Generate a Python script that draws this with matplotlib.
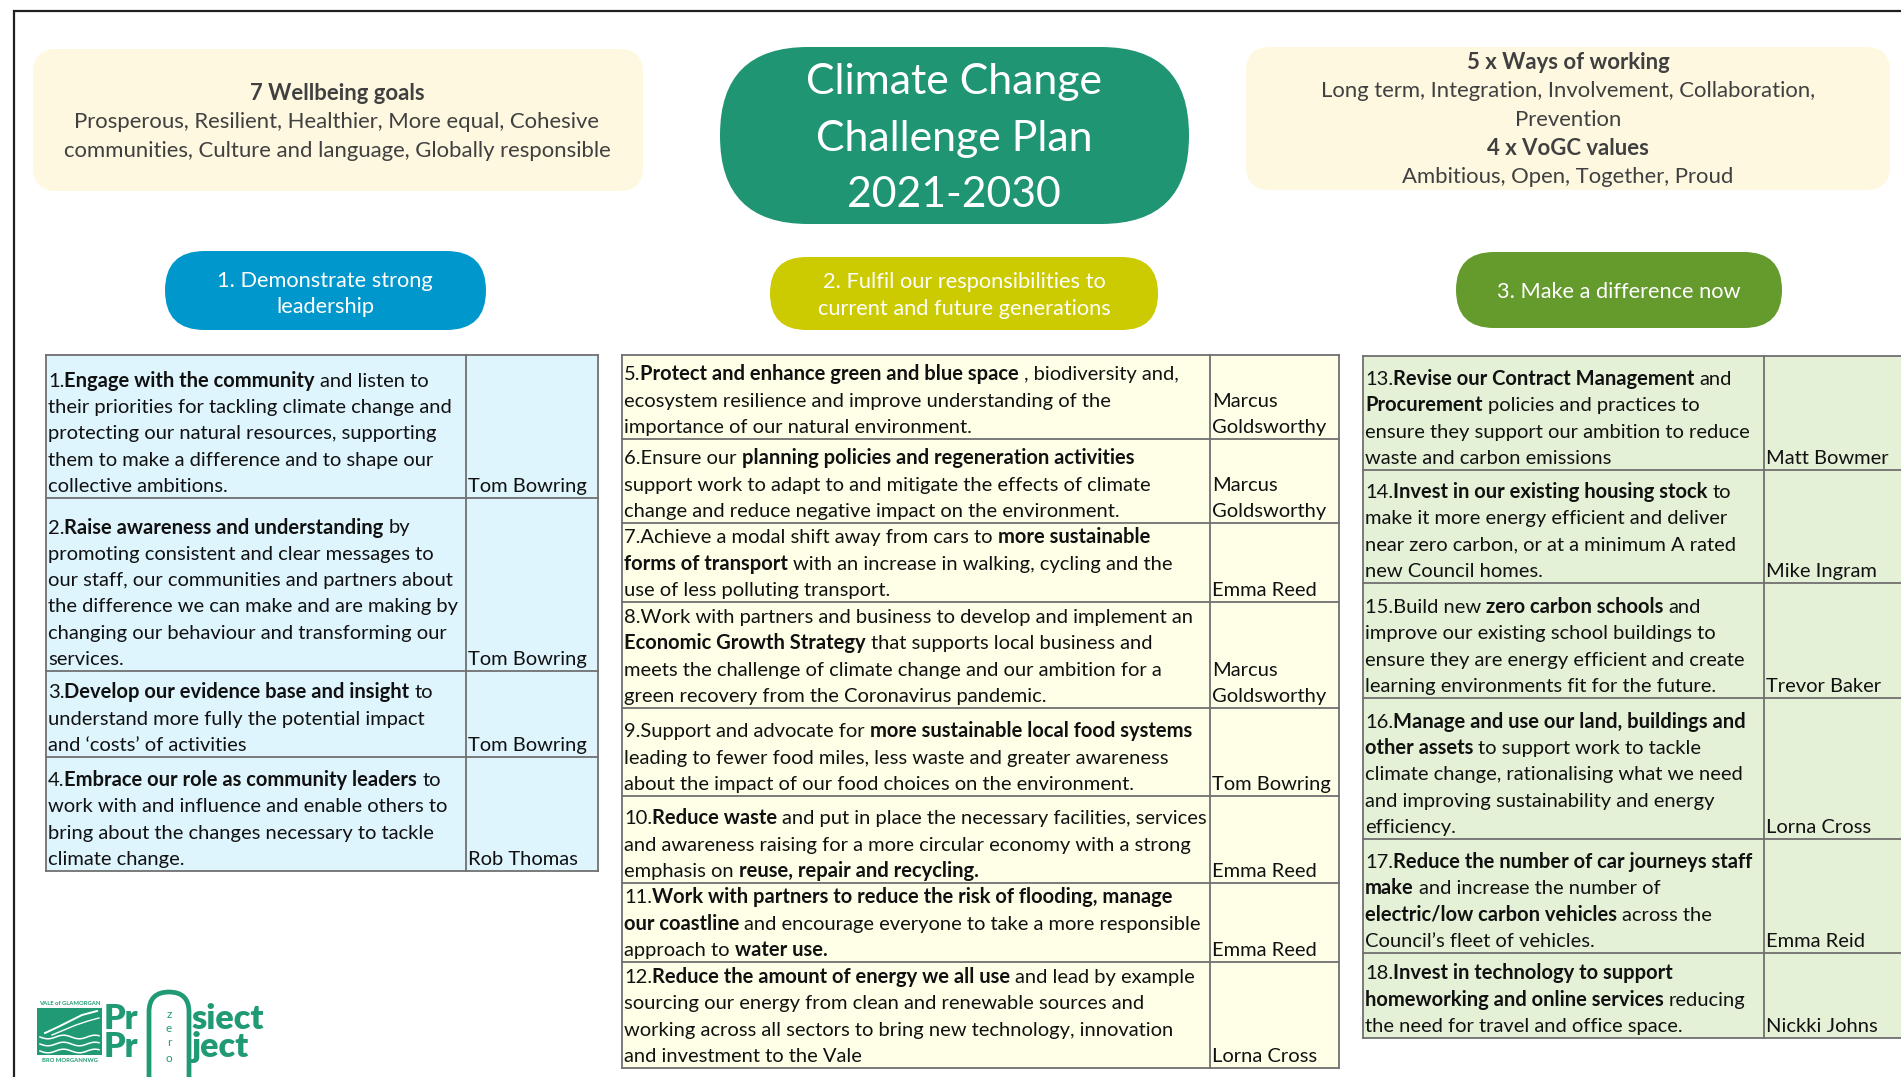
import matplotlib
matplotlib.use("Agg")
import matplotlib.pyplot as plt
import numpy as np
from matplotlib.patches import FancyBboxPatch, Rectangle
from matplotlib.font_manager import FontProperties

# ---------------- content ----------------
wellbeing_heading = "7 Wellbeing goals"
wellbeing_goals = ["Prosperous, Resilient, Healthier, More equal, Cohesive",
                   "communities, Culture and language, Globally responsible"]
ways_heading = "5 x Ways of working"
ways_of_working = ["Long term, Integration, Involvement, Collaboration,", "Prevention"]
values_heading = "4 x VoGC values"
vogc_values = ["Ambitious, Open, Together, Proud"]
plan_title = ["Climate Change", "Challenge Plan", "2021-2030"]
theme_titles = [["1. Demonstrate strong", "leadership"],
                ["2. Fulfil our responsibilities to", "current and future generations"],
                ["3. Make a difference now"]]

leadership_actions = [
    ["1.**Engage with the community** and listen to",
     "their priorities for tackling climate change and",
     "protecting our natural resources, supporting",
     "them to make a difference and to shape our",
     "collective ambitions."],
    ["2.**Raise awareness and understanding** by",
     "promoting consistent and clear messages to",
     "our staff, our communities and partners about",
     "the difference we can make and are making by",
     "changing our behaviour and transforming our",
     "services."],
    ["3.**Develop our evidence base and insight** to",
     "understand more fully the potential impact",
     "and \u2018costs\u2019 of activities"],
    ["4.**Embrace our role as community leaders** to",
     "work with and influence and enable others to",
     "bring about the changes necessary to tackle",
     "climate change."],
]
leadership_leads = ["Tom Bowring", "Tom Bowring", "Tom Bowring", "Rob Thomas"]

responsibility_actions = [
    ["5.**Protect and enhance green and blue space** , biodiversity and,",
     "ecosystem resilience and improve understanding of the",
     "importance of our natural environment."],
    ["6.Ensure our **planning policies and regeneration activities**",
     "support work to adapt to and mitigate the effects of climate",
     "change and reduce negative impact on the environment."],
    ["7.Achieve a modal shift away from cars to **more sustainable**",
     "**forms of transport** with an increase in walking, cycling and the",
     "use of less polluting transport."],
    ["8.Work with partners and business to develop and implement an",
     "**Economic Growth Strategy** that supports local business and",
     "meets the challenge of climate change and our ambition for a",
     "green recovery from the Coronavirus pandemic."],
    ["9.Support and advocate for **more sustainable local food systems**",
     "leading to fewer food miles, less waste and greater awareness",
     "about the impact of our food choices on the environment."],
    ["10.**Reduce waste** and put in place the necessary facilities, services",
     "and awareness raising for a more circular economy with a strong",
     "emphasis on **reuse, repair and recycling.**"],
    ["11.**Work with partners to reduce the risk of flooding, manage**",
     "**our coastline** and encourage everyone to take a more responsible",
     "approach to **water use.**"],
    ["12.**Reduce the amount of energy we all use** and lead by example",
     "sourcing our energy from clean and renewable sources and",
     "working across all sectors to bring new technology, innovation",
     "and investment to the Vale"],
]
responsibility_leads = ["Marcus\nGoldsworthy", "Marcus\nGoldsworthy", "Emma Reed",
                        "Marcus\nGoldsworthy", "Tom Bowring", "Emma Reed",
                        "Emma Reed", "Lorna Cross"]

difference_actions = [
    ["13.**Revise our Contract Management** and",
     "**Procurement** policies and practices to",
     "ensure they support our ambition to reduce",
     "waste and carbon emissions"],
    ["14.**Invest in our existing housing stock** to",
     "make it more energy efficient and deliver",
     "near zero carbon, or at a minimum A rated",
     "new Council homes."],
    ["15.Build new **zero carbon schools** and",
     "improve our existing school buildings to",
     "ensure they are energy efficient and create",
     "learning environments fit for the future."],
    ["16.**Manage and use our land, buildings and**",
     "**other assets** to support work to tackle",
     "climate change, rationalising what we need",
     "and improving sustainability and energy",
     "efficiency."],
    ["17.**Reduce the number of car journeys staff**",
     "**make** and increase the number of",
     "**electric/low carbon vehicles** across the",
     "Council\u2019s fleet of vehicles."],
    ["18.**Invest in technology to support**",
     "**homeworking and online services** reducing",
     "the need for travel and office space."],
]
difference_leads = ["Matt Bowmer", "Mike Ingram", "Trevor Baker",
                    "Lorna Cross", "Emma Reid", "Nickki Johns"]

logo_left = ["Pr", "Pr"]
logo_right = ["siect", "ject"]
logo_zero = ["z", "e", "r", "o"]
crest_top, crest_bottom = "VALE of GLAMORGAN", "BRO MORGANNWG"

# ---------------- style ----------------
FONT = ['Lato', 'DejaVu Sans']
CREAM = '#FEF8E0'
TITLE_GREEN = '#1F9574'
THEME_COLORS = ['#0098CC', '#CCCA00', '#659A2D']
TABLE_FILLS = ['#DEF5FE', '#FFFFE8', '#E5F1D7']
EDGE = '#707070'
TXT = '#111111'
GREY_TXT = '#404040'
LOGO_GREEN = '#1F9A74'
LINE = 26.3

W, H = 1901, 1077
fig = plt.figure(figsize=(W / 100, H / 100), dpi=100)
fig.patch.set_facecolor('white')
ax = fig.add_axes([0, 0, 1, 1])
ax.set_xlim(0, W)
ax.set_ylim(H, 0)
ax.axis('off')
renderer = fig.canvas.get_renderer()


def metrics(s, size, weight='normal'):
    prop = FontProperties(family=FONT, size=size, weight=weight)
    return renderer.get_text_width_height_descent(s, prop, ismath=False)


def tw(s, size, weight='normal'):
    return metrics("|" + s + "|", size, weight)[0] - metrics("||", size, weight)[0]


def parse(line, base='normal'):
    parts = line.split("**")
    out = []
    for i, p in enumerate(parts):
        if p:
            out.append((p, ('bold' if i % 2 else base)))
    return out


def line_width(line, size, base='normal'):
    return sum(tw(t, size, w) for t, w in parse(line, base))


def rich_line(x, y, line, size, color, ha='left', base='normal', zorder=5):
    segs = parse(line, base)
    widths = [tw(t, size, w) for t, w in segs]
    if ha == 'center':
        x = x - sum(widths) / 2
    for (t, w), wd in zip(segs, widths):
        stripped = t.lstrip(' ')
        lead = len(t) - len(stripped)
        off = tw(' ' * lead, size, w) if lead else 0
        if stripped:
            ax.text(x + off, y, stripped, fontsize=size, fontweight=w, family=FONT,
                    color=color, va='baseline', ha='left', zorder=zorder)
        x += wd


def fit(pairs, base='normal'):
    tot_t = sum(t for _, t in pairs)
    tot_w = sum(line_width(l, 10, base) for l, _ in pairs)
    return 10 * tot_t / tot_w


def rbox(x, y, w, h, r, color, z=1, ec='none', lw=0):
    ax.add_patch(FancyBboxPatch((x, y), w, h, boxstyle=f"round,pad=0,rounding_size={r}",
                                facecolor=color, edgecolor=ec, linewidth=lw, zorder=z))


# ---------------- frame ----------------
ax.plot([14, 14, 1930], [1100, 11, 11], color='#202020', lw=1.6, solid_joinstyle='miter', zorder=10)

# ---------------- top boxes ----------------
top_size = fit([(wellbeing_goals[1], 549), (ways_of_working[0], 495)])
rbox(33, 49, 610, 142, 24, CREAM)
ax.text(337, 100, wellbeing_heading, fontsize=top_size, fontweight='bold', family=FONT,
        color=GREY_TXT, ha='center', va='baseline')
for ln, yb in zip(wellbeing_goals, [128, 157]):
    ax.text(337, yb, ln, fontsize=top_size, family=FONT, color=GREY_TXT, ha='center', va='baseline')

rbox(1246, 47, 644, 143, 24, CREAM)
right_lines = [(ways_heading, 'bold')] + [(l, 'normal') for l in ways_of_working] + \
              [(values_heading, 'bold')] + [(l, 'normal') for l in vogc_values]
for (ln, wgt), yb in zip(right_lines, [69, 97, 126, 155, 183]):
    ax.text(1568, yb, ln, fontsize=top_size, fontweight=wgt, family=FONT, color=GREY_TXT,
            ha='center', va='baseline')

# ---------------- title ----------------
title_size = fit([(plan_title[0], 300), (plan_title[1], 282), (plan_title[2], 205)])
rbox(720, 47, 469, 177, 88, TITLE_GREEN)
for ln, yb in zip(plan_title, [94, 151, 207]):
    ax.text(954, yb, ln, fontsize=title_size, family=FONT, color='white', ha='center', va='baseline', zorder=3)

# ---------------- theme pills ----------------
pill_size = fit([(theme_titles[0][0], 216), (theme_titles[1][0], 285),
                 (theme_titles[1][1], 295), (theme_titles[2][0], 243)])
pills = [(165, 251, 321, 79, 325, [287, 313]),
         (770, 257, 388, 73, 964, [288, 315]),
         (1456, 252, 326, 76, 1619, [298])]
for (px, py, pw, ph, cx, bls), col, labels in zip(pills, THEME_COLORS, theme_titles):
    rbox(px, py, pw, ph, ph / 2, col)
    for ln, yb in zip(labels, bls):
        ax.text(cx, yb, ln, fontsize=pill_size, family=FONT, color='white', ha='center', va='baseline', zorder=3)

# ---------------- tables ----------------
tables = [
    (46, 466, 598, [355, 498, 671, 757, 871], leadership_actions, leadership_leads, TABLE_FILLS[0]),
    (622, 1210, 1339, [355, 439, 523, 602, 708, 796, 883, 962, 1068],
     responsibility_actions, responsibility_leads, TABLE_FILLS[1]),
    (1363, 1764, 1930, [356, 470, 583, 698, 839, 953, 1038], difference_actions, difference_leads, TABLE_FILLS[2]),
]

tsize = fit([(leadership_actions[1][3], 414), (responsibility_actions[3][0], 574),
             (difference_actions[0][2], 388)])
for x0, xs, x1, bounds, acts, leads, fill in tables:
    avail = xs - x0 - 4
    mw = max(line_width(l, 10) for rows in acts for l in rows)
    tsize = min(tsize, 10 * avail / mw)

for x0, xs, x1, bounds, acts, leads, fill in tables:
    ax.add_patch(Rectangle((x0, bounds[0]), x1 - x0, bounds[-1] - bounds[0],
                           facecolor=fill, edgecolor='none', zorder=1))
    for yb in bounds:
        ax.plot([x0, x1], [yb, yb], color=EDGE, lw=1.3, zorder=2, solid_capstyle='projecting')
    for xv in (x0, xs, x1):
        ax.plot([xv, xv], [bounds[0], bounds[-1]], color=EDGE, lw=1.3, zorder=2, solid_capstyle='projecting')
    for i, (lines, lead) in enumerate(zip(acts, leads)):
        base = bounds[i + 1] - 6
        n = len(lines)
        for k, ln in enumerate(lines):
            rich_line(x0 + 2, base - (n - 1 - k) * LINE, ln, tsize, TXT)
        names = lead.split("\n")
        for k, nm in enumerate(names):
            ax.text(xs + 2, base - (len(names) - 1 - k) * LINE, nm, fontsize=tsize, family=FONT,
                    color=TXT, ha='left', va='baseline', zorder=5)

# ---------------- logo ----------------
ax.text(69.5, 1003.5, crest_top, fontsize=4.2, fontweight='bold', family=FONT,
        color=LOGO_GREEN, ha='center', va='center')
ax.add_patch(Rectangle((37, 1008), 65, 47, facecolor=LOGO_GREEN, edgecolor='none', zorder=2))
wx = np.linspace(40, 99, 60)
for yy in (1037, 1044, 1051):
    ax.plot(wx, yy + 1.8 * np.sin((wx - 40) / 5.0), color='white', lw=1.1, zorder=3)
ax.plot([45, 58, 70, 82, 97], [1033, 1027, 1021, 1015, 1011], color='white', lw=1.4, zorder=3)
ax.plot([52, 64, 76, 88, 99], [1035, 1030, 1025, 1021, 1018], color='white', lw=1.0, zorder=3)
ax.text(69.5, 1061, crest_bottom, fontsize=4.2, fontweight='bold', family=FONT,
        color=LOGO_GREEN, ha='center', va='center')

# logo word-mark: two-line texts, first baseline 1028, second 1056
cap10 = metrics("P", 10, 'heavy')[1]
logo_size = 10 * 27 / cap10
_, lp_h, lp_d = metrics("lp", logo_size, 'heavy')
asc = lp_h - lp_d
logo_ls = (28 - lp_d) / asc
top_y = 1029 - asc
ax.add_patch(FancyBboxPatch((149, 992), 40, 115, boxstyle="round,pad=0,rounding_size=20",
                            facecolor='white', edgecolor=LOGO_GREEN, linewidth=3.4, zorder=3))
ax.text(104, top_y, "\n".join(logo_left), fontsize=logo_size, fontweight='heavy', family=FONT,
        color=LOGO_GREEN, ha='left', va='top', linespacing=logo_ls, zorder=4)
ax.text(191, top_y, "\n".join(logo_right), fontsize=logo_size, fontweight='heavy', family=FONT,
        color=LOGO_GREEN, ha='left', va='top', linespacing=logo_ls, zorder=4)
for ch, yy in zip(logo_zero, [1015, 1029, 1043, 1058]):
    ax.text(169, yy, ch, fontsize=8.5, family=FONT, color=LOGO_GREEN, ha='center', va='center', zorder=4)

fig.savefig("out.png", dpi=100, facecolor='white')
